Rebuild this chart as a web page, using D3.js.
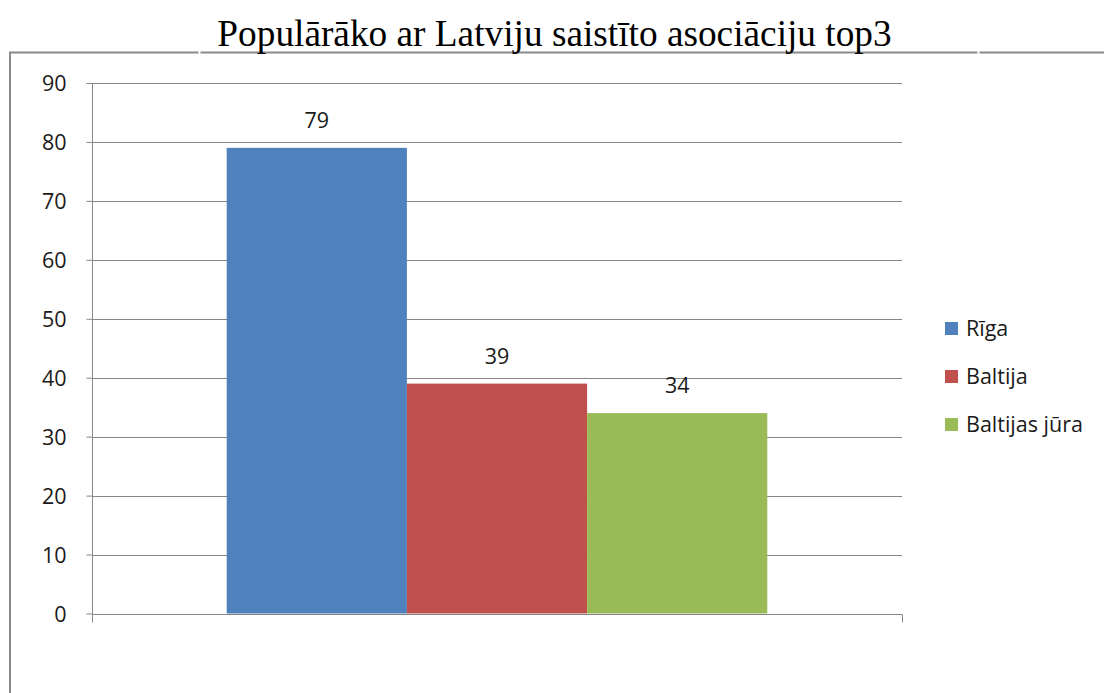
<!DOCTYPE html>
<html><head><meta charset="utf-8">
<script src="https://cdn.jsdelivr.net/npm/d3@7"></script>
<style>html,body{margin:0;padding:0;background:#fff;}svg{display:block;}</style>
</head><body>
<svg id="c" width="1104" height="693"></svg>
<script>
const title = "Populārāko ar Latviju saistīto asociāciju top3";
const seriesNames = ["Rīga", "Baltija", "Baltijas jūra"];
const seriesValues = [79, 39, 34];
const seriesColors = ["#4F81BD", "#C0504D", "#9BBB59"];
const yTicks = [0, 10, 20, 30, 40, 50, 60, 70, 80, 90];

const svg = d3.select("#c");
const M = {left: 92, right: 902, top: 83, bottom: 613.5};
const axisCol = "#868686";
const font = "'Open Sans', Lato, sans-serif";
const fs = 21.5;

// frame
const fr = svg.append("g").attr("stroke", "#8a8a8a").attr("stroke-width", 2).attr("fill", "none");
fr.append("path").attr("d", "M10,693 V52.5 H198.5");
fr.append("path").attr("d", "M200.5,52.5 H977.5");
fr.append("path").attr("d", "M979.5,52.5 H1104");

// title
svg.append("text").attr("x", 554.5).attr("y", 46).attr("text-anchor", "middle")
  .attr("font-family", "'Liberation Serif','Times New Roman',serif").attr("font-size", 37.3)
  .attr("fill", "#000").text(title);

const y = d3.scaleLinear().domain([0, 90]).range([M.bottom, M.top]);
const x0 = d3.scaleBand().domain(["c"]).range([M.left, M.right]).paddingInner(0).paddingOuter(0);
const groupPad = 134.7 / 810;
const x1 = d3.scaleBand().domain(seriesNames)
  .range([x0("c") + x0.bandwidth() * groupPad, x0("c") + x0.bandwidth() * (1 - groupPad)]).padding(0);

// gridlines
svg.append("g").selectAll("line").data(yTicks.filter(d => d > 0)).join("line")
  .attr("x1", M.left).attr("x2", M.right)
  .attr("y1", d => Math.round(y(d)) + 0.5).attr("y2", d => Math.round(y(d)) + 0.5)
  .attr("stroke", axisCol).attr("stroke-width", 1);

// bars
svg.append("g").selectAll("rect").data(seriesValues).join("rect")
  .attr("x", (d, i) => x1(seriesNames[i]))
  .attr("width", x1.bandwidth())
  .attr("y", d => y(d))
  .attr("height", d => y(0) - y(d))
  .attr("fill", (d, i) => seriesColors[i]);

// value labels
svg.append("g").selectAll("text").data(seriesValues).join("text")
  .attr("x", (d, i) => x1(seriesNames[i]) + x1.bandwidth() / 2)
  .attr("y", d => y(d) - 20)
  .attr("text-anchor", "middle").attr("font-family", font).attr("font-size", fs)
  .attr("fill", "#1a1a1a").text(d => d);

// y axis
const yAxis = d3.axisLeft(y).tickValues(yTicks).tickSize(6).tickPadding(20).tickSizeOuter(0);
const gy = svg.append("g").attr("transform", `translate(${M.left + 0.5},0)`).call(yAxis);
gy.select(".domain").attr("stroke", axisCol).attr("d", `M0,${M.top}V${M.bottom + 8}`);
gy.selectAll(".tick line").attr("stroke", axisCol);
gy.selectAll(".tick text").attr("font-family", font).attr("font-size", fs).attr("fill", "#1a1a1a").attr("dy", "0.36em");

// x axis
const xAxis = d3.axisBottom(d3.scaleLinear().domain([0, 1]).range([M.left, M.right])).tickValues([0, 1]).tickSize(8).tickFormat("");
const gx = svg.append("g").attr("transform", `translate(0,${Math.round(y(0)) + 0.5})`).call(xAxis);
gx.select(".domain").attr("stroke", axisCol).attr("d", `M${M.left},0H${M.right}`);
gx.selectAll(".tick line").attr("stroke", axisCol);

// legend
const lg = svg.append("g").selectAll("g").data(seriesNames).join("g")
  .attr("transform", (d, i) => `translate(945,${322 + i * 48})`);
lg.append("rect").attr("width", 13).attr("height", 13).attr("fill", (d, i) => seriesColors[i]);
lg.append("text").attr("x", 21).attr("y", 14).attr("font-family", font).attr("font-size", fs)
  .attr("fill", "#1a1a1a").text(d => d);
</script>
</body></html>
